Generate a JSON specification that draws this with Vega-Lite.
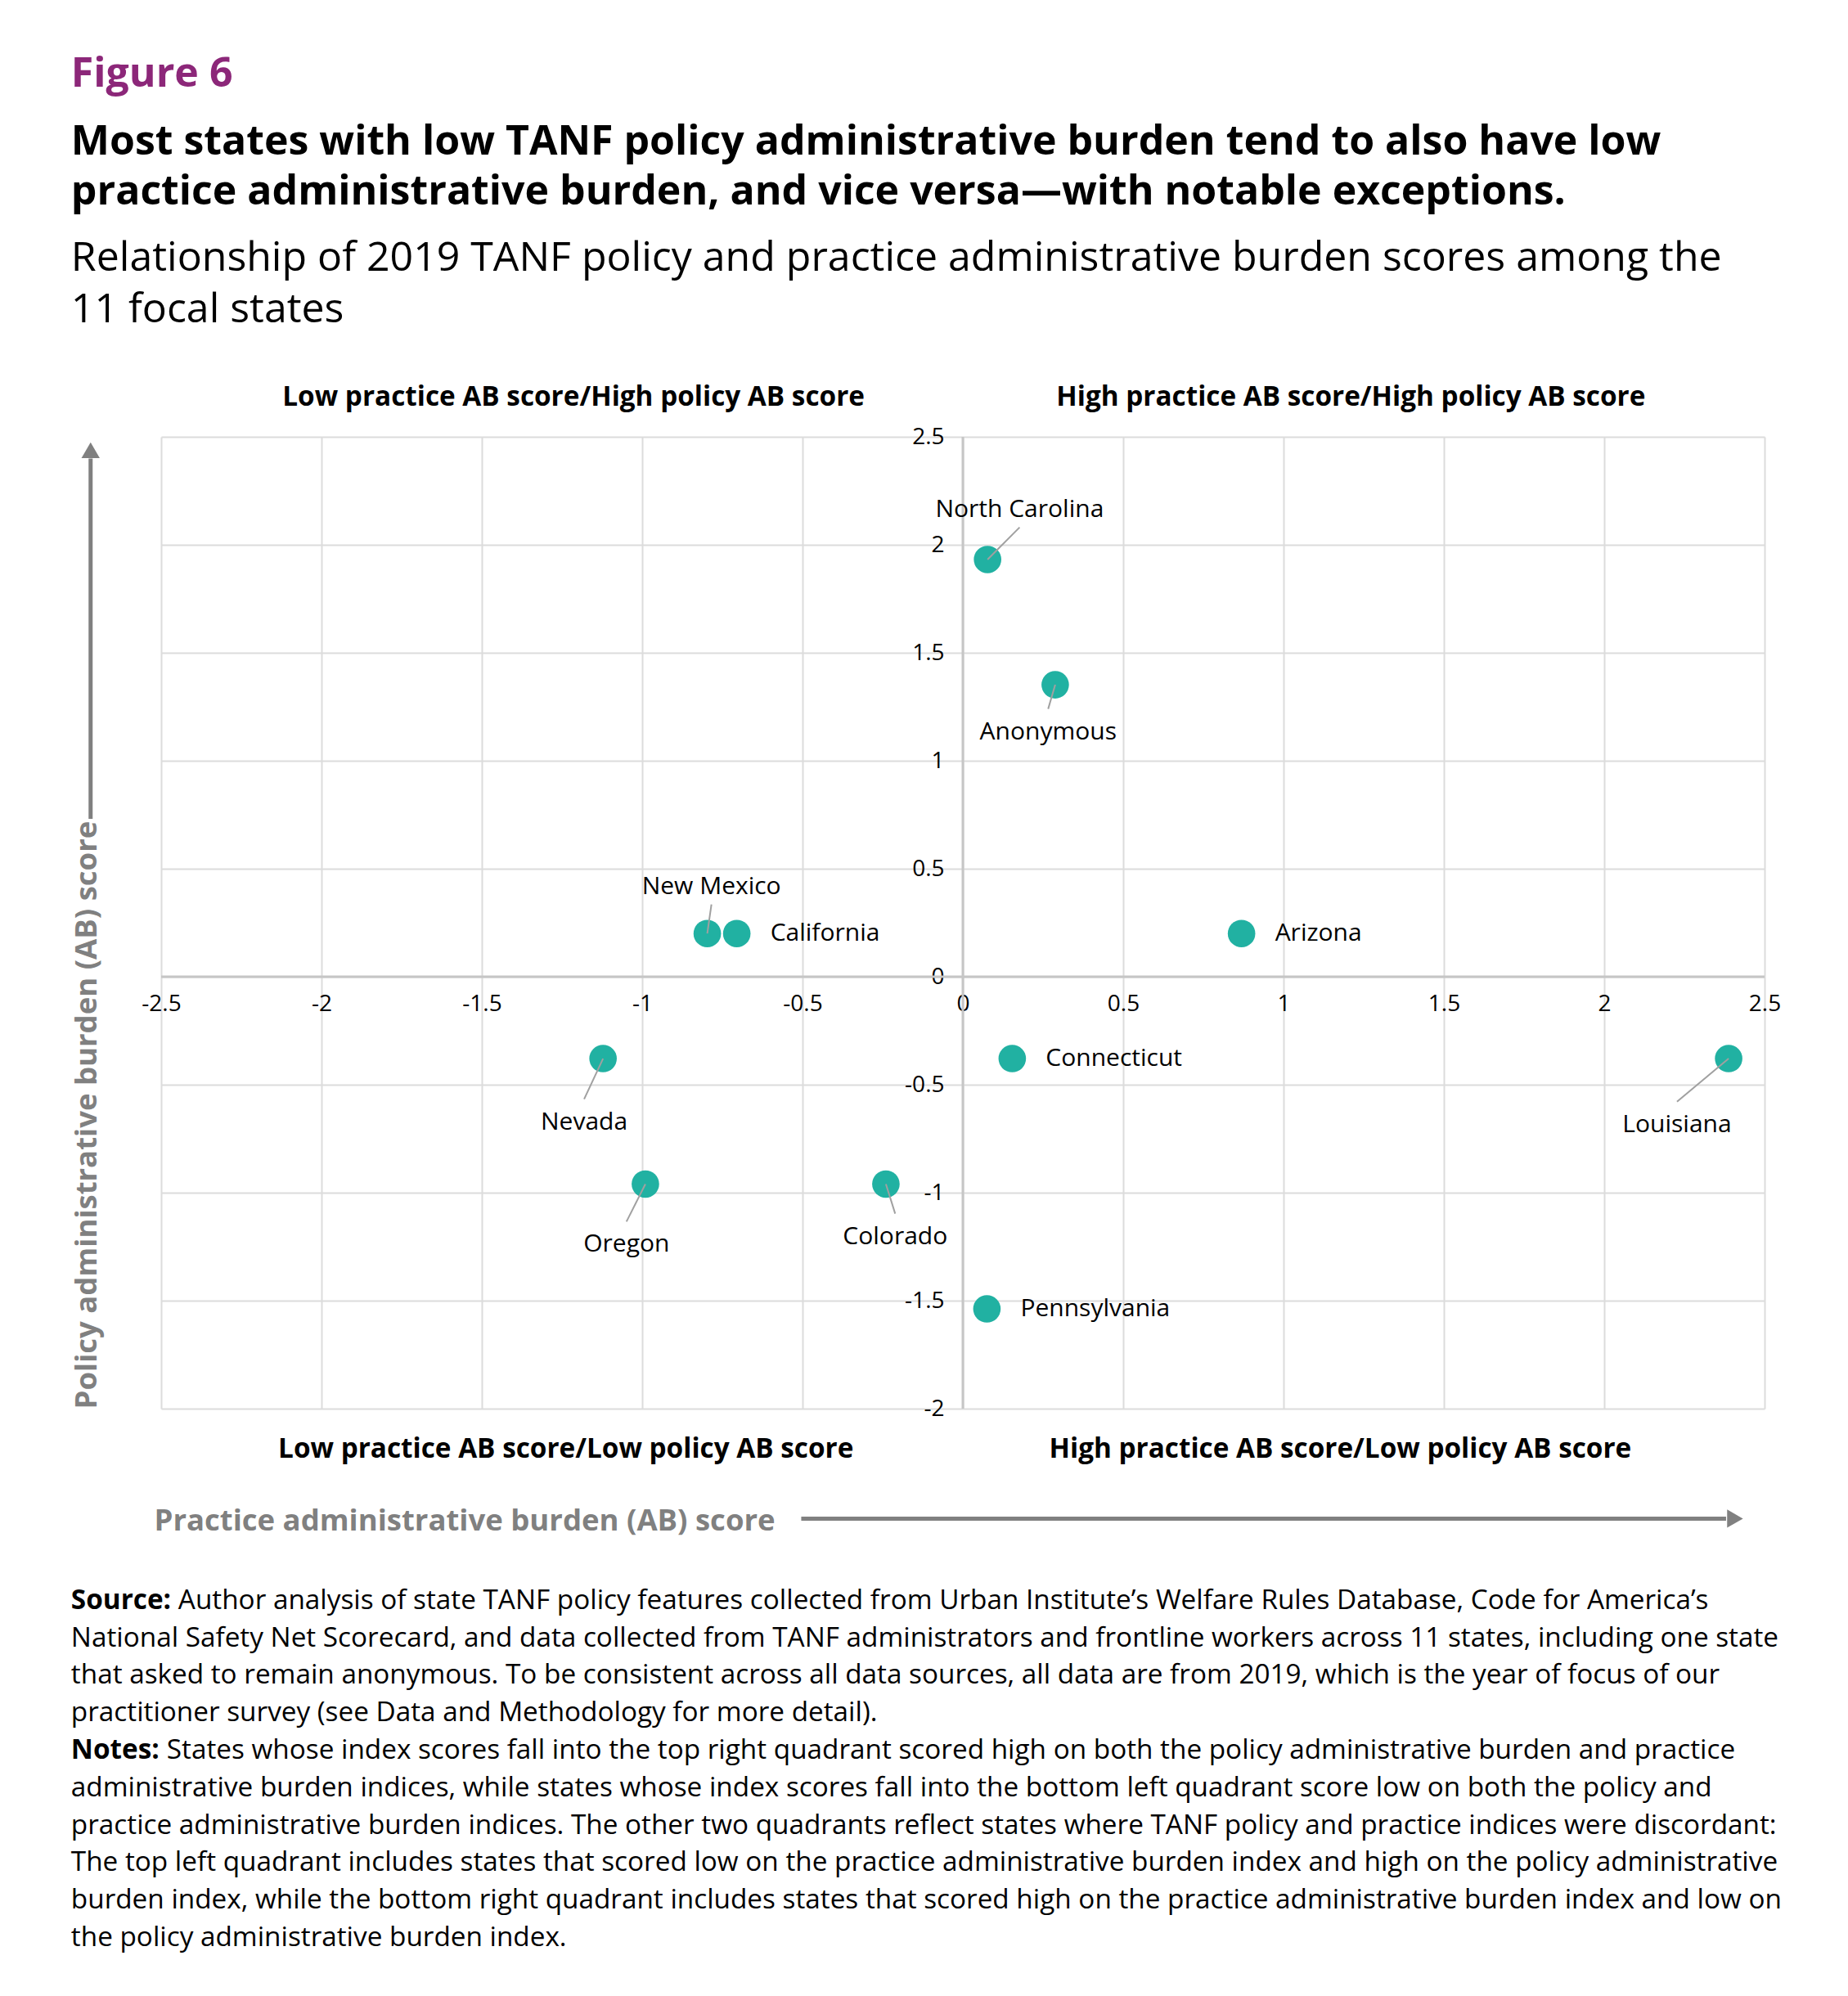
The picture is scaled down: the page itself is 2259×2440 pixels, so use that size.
{
  "$schema": "https://vega.github.io/schema/vega-lite/v6.json",
  "width": 1960,
  "height": 1188,
  "padding": {"left": 86, "top": 66, "right": 20, "bottom": 20},
  "background": "white",
  "config": {"view": {"stroke": null}, "font": "Open Sans"},
  "title": {
    "text": "Figure 6",
    "subtitle": ["Most states with low TANF policy administrative burden tend to also have low", "practice administrative burden, and vice versa—with notable exceptions."],
    "anchor": "start",
    "frame": "bounds",
    "font": "Open Sans",
    "fontSize": 50,
    "fontWeight": "bold",
    "color": "#8c2779",
    "lineHeight": 50,
    "subtitleFont": "Open Sans",
    "subtitleFontSize": 50,
    "subtitleFontWeight": "bold",
    "subtitleColor": "#000000",
    "subtitleLineHeight": 61,
    "subtitlePadding": 33,
    "offset": 31
  },
  "datasets": {
    "states": [
      {"state": "North Carolina", "practice": 0.077, "policy": 1.932, "side": "above", "lx": 0.177, "ly": 2.081},
      {"state": "Anonymous", "practice": 0.288, "policy": 1.352, "side": "below", "lx": 0.266, "ly": 1.24},
      {"state": "New Mexico", "practice": -0.797, "policy": 0.2, "side": "above", "lx": -0.784, "ly": 0.335},
      {"state": "California", "practice": -0.705, "policy": 0.2, "side": "right", "lx": -0.705, "ly": 0.2},
      {"state": "Arizona", "practice": 0.869, "policy": 0.2, "side": "right", "lx": 0.869, "ly": 0.2},
      {"state": "Connecticut", "practice": 0.154, "policy": -0.379, "side": "right", "lx": 0.154, "ly": -0.379},
      {"state": "Louisiana", "practice": 2.388, "policy": -0.379, "side": "below", "lx": 2.227, "ly": -0.579},
      {"state": "Nevada", "practice": -1.122, "policy": -0.379, "side": "below", "lx": -1.181, "ly": -0.567},
      {"state": "Oregon", "practice": -0.99, "policy": -0.96, "side": "below", "lx": -1.049, "ly": -1.134},
      {"state": "Colorado", "practice": -0.24, "policy": -0.96, "side": "below", "lx": -0.211, "ly": -1.097},
      {"state": "Pennsylvania", "practice": 0.075, "policy": -1.538, "side": "right", "lx": 0.075, "ly": -1.538}
    ],
    "quadrants": [
      {"label": "Low practice AB score/High policy AB score", "qx": -1.214, "edge": "top"},
      {"label": "High practice AB score/High policy AB score", "qx": 1.21, "edge": "top"},
      {"label": "Low practice AB score/Low policy AB score", "qx": -1.238, "edge": "bottom"},
      {"label": "High practice AB score/Low policy AB score", "qx": 1.177, "edge": "bottom"}
    ]
  },
  "layer": [
    {
      "data": {"values": [{}]},
      "mark": {"type": "rule", "color": "#c6c6c6", "strokeWidth": 3},
      "encoding": {"x": {"datum": 0, "type": "quantitative", "scale": {"domain": [-2.5, 2.5], "nice": false, "zero": false}}}
    },
    {
      "data": {"values": [{}]},
      "mark": {"type": "rule", "color": "#c6c6c6", "strokeWidth": 3},
      "encoding": {"y": {"datum": 0, "type": "quantitative", "scale": {"domain": [-2, 2.5], "nice": false, "zero": false}}}
    },
    {
      "data": {"name": "states"},
      "mark": {"type": "circle", "size": 1130, "color": "#21b1a2", "opacity": 1},
      "encoding": {
        "x": {
          "field": "practice", "type": "quantitative",
          "scale": {"domain": [-2.5, 2.5], "nice": false, "zero": false},
          "axis": {
            "title": "Practice administrative burden (AB) score",
            "values": [-2.5, -2, -1.5, -1, -0.5, 0, 0.5, 1, 1.5, 2, 2.5],
            "grid": true, "gridColor": "#dcdcdc", "gridWidth": 2,
            "domain": false, "ticks": false, "tickSize": 0,
            "labelPadding": -509, "labelFlush": false, "labelOverlap": false, "labelBound": false,
            "labelFont": "Open Sans", "labelFontSize": 28, "labelColor": "#000000",
            "labelExpr": "datum.value < 0 ? '-' + format(-datum.value, '~g') : format(datum.value, '~g')",
            "titleFont": "Open Sans", "titleFontSize": 36.5, "titleFontWeight": "bold", "titleColor": "#808080",
            "titleAnchor": "start", "titlePadding": 119, "titleX": -9, "minExtent": 0, "maxExtent": 200
          }
        },
        "y": {
          "field": "policy", "type": "quantitative",
          "scale": {"domain": [-2, 2.5], "nice": false, "zero": false},
          "axis": {
            "title": "Policy administrative burden (AB) score",
            "values": [-2, -1.5, -1, -0.5, 0, 0.5, 1, 1.5, 2, 2.5],
            "grid": true, "gridColor": "#dcdcdc", "gridWidth": 2,
            "domain": false, "ticks": false, "tickSize": 0,
            "labelPadding": -957, "labelFlush": false, "labelOverlap": false, "labelBound": false,
            "labelFont": "Open Sans", "labelFontSize": 28, "labelColor": "#000000",
            "labelExpr": "datum.value < 0 ? '-' + format(-datum.value, '~g') : format(datum.value, '~g')",
            "titleFont": "Open Sans", "titleFontSize": 36.5, "titleFontWeight": "bold", "titleColor": "#808080",
            "titleAnchor": "start", "titlePadding": 72, "minExtent": 0, "maxExtent": 200
          }
        }
      }
    },
    {
      "data": {"name": "states"},
      "transform": [{"filter": "datum.side !== 'right'"}],
      "mark": {"type": "rule", "color": "#a0a0a0", "strokeWidth": 2},
      "encoding": {
        "x": {"field": "practice", "type": "quantitative", "scale": {"domain": [-2.5, 2.5], "nice": false, "zero": false}},
        "y": {"field": "policy", "type": "quantitative", "scale": {"domain": [-2, 2.5], "nice": false, "zero": false}},
        "x2": {"field": "lx"},
        "y2": {"field": "ly"}
      }
    },
    {
      "data": {"name": "states"},
      "transform": [{"filter": "datum.side === 'right'"}],
      "mark": {"type": "text", "align": "left", "baseline": "middle", "dx": 41, "fontSize": 30, "font": "Open Sans", "color": "#000000"},
      "encoding": {
        "x": {"field": "practice", "type": "quantitative", "scale": {"domain": [-2.5, 2.5], "nice": false, "zero": false}},
        "y": {"field": "policy", "type": "quantitative", "scale": {"domain": [-2, 2.5], "nice": false, "zero": false}},
        "text": {"field": "state"}
      }
    },
    {
      "data": {"name": "states"},
      "transform": [{"filter": "datum.side === 'above'"}],
      "mark": {"type": "text", "align": "center", "baseline": "alphabetic", "dy": -13, "fontSize": 30, "font": "Open Sans", "color": "#000000"},
      "encoding": {
        "x": {"field": "lx", "type": "quantitative", "scale": {"domain": [-2.5, 2.5], "nice": false, "zero": false}},
        "y": {"field": "ly", "type": "quantitative", "scale": {"domain": [-2, 2.5], "nice": false, "zero": false}},
        "text": {"field": "state"}
      }
    },
    {
      "data": {"name": "states"},
      "transform": [{"filter": "datum.side === 'below'"}],
      "mark": {"type": "text", "align": "center", "baseline": "top", "dy": 13, "fontSize": 30, "font": "Open Sans", "color": "#000000"},
      "encoding": {
        "x": {"field": "lx", "type": "quantitative", "scale": {"domain": [-2.5, 2.5], "nice": false, "zero": false}},
        "y": {"field": "ly", "type": "quantitative", "scale": {"domain": [-2, 2.5], "nice": false, "zero": false}},
        "text": {"field": "state"}
      }
    },
    {
      "data": {"name": "quadrants"},
      "transform": [{"filter": "datum.edge === 'top'"}],
      "mark": {"type": "text", "align": "center", "baseline": "alphabetic", "dy": -38, "fontSize": 33.3, "fontWeight": "bold", "font": "Open Sans", "color": "#000000"},
      "encoding": {
        "x": {"field": "qx", "type": "quantitative", "scale": {"domain": [-2.5, 2.5], "nice": false, "zero": false}},
        "y": {"datum": 2.5, "type": "quantitative", "scale": {"domain": [-2, 2.5], "nice": false, "zero": false}},
        "text": {"field": "label"}
      }
    },
    {
      "data": {"name": "quadrants"},
      "transform": [{"filter": "datum.edge === 'bottom'"}],
      "mark": {"type": "text", "align": "center", "baseline": "alphabetic", "dy": 60, "fontSize": 33.3, "fontWeight": "bold", "font": "Open Sans", "color": "#000000"},
      "encoding": {
        "x": {"field": "qx", "type": "quantitative", "scale": {"domain": [-2.5, 2.5], "nice": false, "zero": false}},
        "y": {"datum": -2, "type": "quantitative", "scale": {"domain": [-2, 2.5], "nice": false, "zero": false}},
        "text": {"field": "label"}
      }
    },
    {
      "data": {"values": [{}]},
      "mark": {"type": "rule", "color": "#808080", "strokeWidth": 5},
      "encoding": {
        "x": {"datum": -0.504, "type": "quantitative", "scale": {"domain": [-2.5, 2.5], "nice": false, "zero": false}},
        "x2": {"datum": 2.38},
        "y": {"datum": -2.509, "type": "quantitative", "scale": {"domain": [-2, 2.5], "nice": false, "zero": false}}
      }
    },
    {
      "data": {"values": [{}]},
      "mark": {"type": "point", "shape": "triangle-right", "filled": true, "size": 500, "color": "#808080", "opacity": 1},
      "encoding": {
        "x": {"datum": 2.408, "type": "quantitative", "scale": {"domain": [-2.5, 2.5], "nice": false, "zero": false}},
        "y": {"datum": -2.509, "type": "quantitative", "scale": {"domain": [-2, 2.5], "nice": false, "zero": false}}
      }
    },
    {
      "data": {"values": [{}]},
      "mark": {"type": "rule", "color": "#808080", "strokeWidth": 5},
      "encoding": {
        "x": {"datum": -2.72, "type": "quantitative", "scale": {"domain": [-2.5, 2.5], "nice": false, "zero": false}},
        "y": {"datum": 0.731, "type": "quantitative", "scale": {"domain": [-2, 2.5], "nice": false, "zero": false}},
        "y2": {"datum": 2.4}
      }
    },
    {
      "data": {"values": [{}]},
      "mark": {"type": "point", "shape": "triangle-up", "filled": true, "size": 500, "color": "#808080", "opacity": 1},
      "encoding": {
        "x": {"datum": -2.72, "type": "quantitative", "scale": {"domain": [-2.5, 2.5], "nice": false, "zero": false}},
        "y": {"datum": 2.438, "type": "quantitative", "scale": {"domain": [-2, 2.5], "nice": false, "zero": false}}
      }
    },
    {
      "data": {"values": [{}]},
      "mark": {"type": "text", "align": "left", "baseline": "alphabetic", "fontSize": 50, "lineHeight": 62.5, "font": "Open Sans", "color": "#000000",
        "text": ["Relationship of 2019 TANF policy and practice administrative burden scores among the", "11 focal states"]},
      "encoding": {
        "x": {"datum": -2.781, "type": "quantitative", "scale": {"domain": [-2.5, 2.5], "nice": false, "zero": false}},
        "y": {"datum": 3.268, "type": "quantitative", "scale": {"domain": [-2, 2.5], "nice": false, "zero": false}}
      }
    },
    {
      "data": {"values": [{}]},
      "mark": {"type": "text", "align": "left", "baseline": "alphabetic", "fontSize": 33.3, "fontWeight": "bold", "font": "Open Sans", "color": "#000000", "text": "Source:"},
      "encoding": {
        "x": {"datum": -2.781, "type": "quantitative", "scale": {"domain": [-2.5, 2.5], "nice": false, "zero": false}},
        "y": {"datum": -2.927, "type": "quantitative", "scale": {"domain": [-2, 2.5], "nice": false, "zero": false}}
      }
    },
    {
      "data": {"values": [{}]},
      "mark": {"type": "text", "align": "left", "baseline": "alphabetic", "fontSize": 33.3, "font": "Open Sans", "color": "#000000", "dx": 131,
        "text": "Author analysis of state TANF policy features collected from Urban Institute’s Welfare Rules Database, Code for America’s"},
      "encoding": {
        "x": {"datum": -2.781, "type": "quantitative", "scale": {"domain": [-2.5, 2.5], "nice": false, "zero": false}},
        "y": {"datum": -2.927, "type": "quantitative", "scale": {"domain": [-2, 2.5], "nice": false, "zero": false}}
      }
    },
    {
      "data": {"values": [{}]},
      "mark": {"type": "text", "align": "left", "baseline": "alphabetic", "fontSize": 33.3, "lineHeight": 45.8, "font": "Open Sans", "color": "#000000",
        "text": ["National Safety Net Scorecard, and data collected from TANF administrators and frontline workers across 11 states, including one state", "that asked to remain anonymous. To be consistent across all data sources, all data are from 2019, which is the year of focus of our", "practitioner survey (see Data and Methodology for more detail)."]},
      "encoding": {
        "x": {"datum": -2.781, "type": "quantitative", "scale": {"domain": [-2.5, 2.5], "nice": false, "zero": false}},
        "y": {"datum": -3.1006, "type": "quantitative", "scale": {"domain": [-2, 2.5], "nice": false, "zero": false}}
      }
    },
    {
      "data": {"values": [{}]},
      "mark": {"type": "text", "align": "left", "baseline": "alphabetic", "fontSize": 33.3, "fontWeight": "bold", "font": "Open Sans", "color": "#000000", "text": "Notes:"},
      "encoding": {
        "x": {"datum": -2.781, "type": "quantitative", "scale": {"domain": [-2.5, 2.5], "nice": false, "zero": false}},
        "y": {"datum": -3.6212, "type": "quantitative", "scale": {"domain": [-2, 2.5], "nice": false, "zero": false}}
      }
    },
    {
      "data": {"values": [{}]},
      "mark": {"type": "text", "align": "left", "baseline": "alphabetic", "fontSize": 33.3, "font": "Open Sans", "color": "#000000", "dx": 117,
        "text": "States whose index scores fall into the top right quadrant scored high on both the policy administrative burden and practice"},
      "encoding": {
        "x": {"datum": -2.781, "type": "quantitative", "scale": {"domain": [-2.5, 2.5], "nice": false, "zero": false}},
        "y": {"datum": -3.6212, "type": "quantitative", "scale": {"domain": [-2, 2.5], "nice": false, "zero": false}}
      }
    },
    {
      "data": {"values": [{}]},
      "mark": {"type": "text", "align": "left", "baseline": "alphabetic", "fontSize": 33.3, "lineHeight": 45.8, "font": "Open Sans", "color": "#000000",
        "text": ["administrative burden indices, while states whose index scores fall into the bottom left quadrant score low on both the policy and", "practice administrative burden indices. The other two quadrants reflect states where TANF policy and practice indices were discordant:", "The top left quadrant includes states that scored low on the practice administrative burden index and high on the policy administrative", "burden index, while the bottom right quadrant includes states that scored high on the practice administrative burden index and low on", "the policy administrative burden index."]},
      "encoding": {
        "x": {"datum": -2.781, "type": "quantitative", "scale": {"domain": [-2.5, 2.5], "nice": false, "zero": false}},
        "y": {"datum": -3.7948, "type": "quantitative", "scale": {"domain": [-2, 2.5], "nice": false, "zero": false}}
      }
    }
  ]
}
